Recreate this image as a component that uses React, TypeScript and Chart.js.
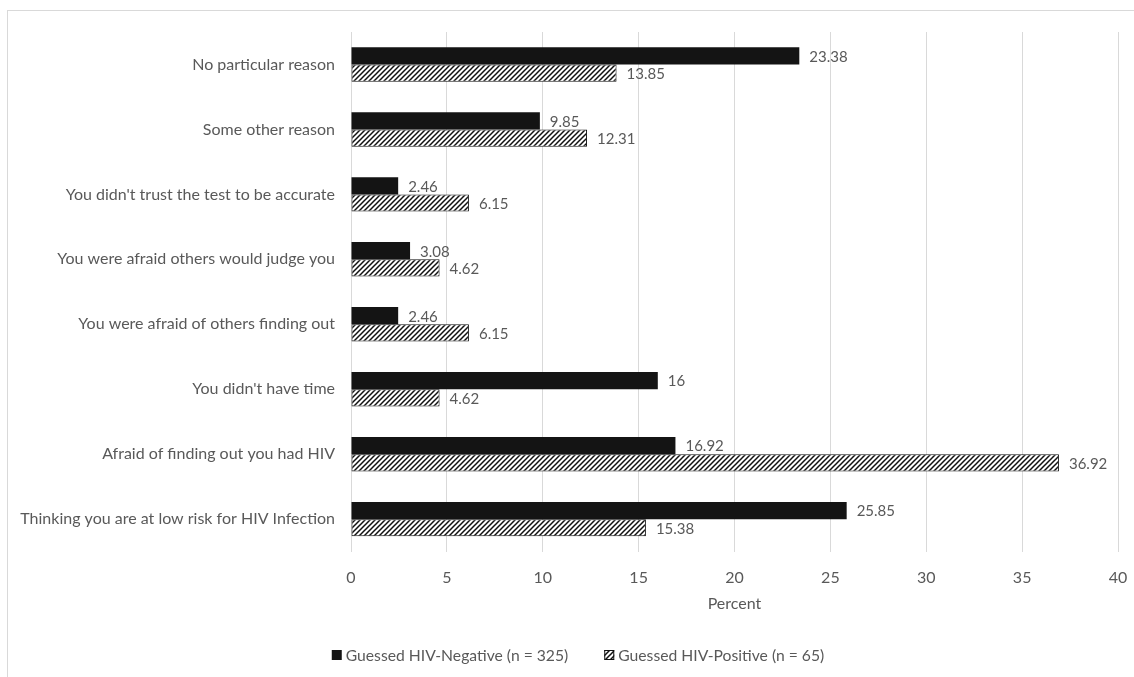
import React, { useEffect, useRef } from "react";
import { Chart, registerables } from "chart.js";

Chart.register(...registerables);

const categories = [
  "No particular reason",
  "Some other reason",
  "You didn't trust the test to be accurate",
  "You were afraid others would judge you",
  "You were afraid of others finding out",
  "You didn't have time",
  "Afraid of finding out you had HIV",
  "Thinking you are at low risk for HIV Infection",
];
const negativeValues = [23.38, 9.85, 2.46, 3.08, 2.46, 16, 16.92, 25.85];
const positiveValues = [13.85, 12.31, 6.15, 4.62, 6.15, 4.62, 36.92, 15.38];
const seriesNames = ["Guessed HIV-Negative (n = 325)", "Guessed HIV-Positive (n = 65)"];
const xTicks = [0, 5, 10, 15, 20, 25, 30, 35, 40];

const FONT = "Lato, 'Open Sans', sans-serif";
const TEXT = "#595959";

function makeHatch(): CanvasPattern | string {
  const c = document.createElement("canvas");
  const s = 5;
  c.width = s;
  c.height = s;
  const g = c.getContext("2d");
  if (!g) return "#fff";
  g.fillStyle = "#ffffff";
  g.fillRect(0, 0, s, s);
  g.strokeStyle = "#111111";
  g.lineWidth = 1.5;
  g.beginPath();
  g.moveTo(-1, s + 1);
  g.lineTo(s + 1, -1);
  g.moveTo(-1, 1);
  g.lineTo(1, -1);
  g.moveTo(s - 1, s + 1);
  g.lineTo(s + 1, s - 1);
  g.stroke();
  const p = g.createPattern(c, "repeat");
  return p || "#fff";
}

const valueLabels = {
  id: "valueLabels",
  afterDatasetsDraw(chart: any) {
    const ctx = chart.ctx;
    ctx.save();
    ctx.font = `15px ${FONT}`;
    ctx.fillStyle = TEXT;
    ctx.textAlign = "left";
    ctx.textBaseline = "middle";
    chart.data.datasets.forEach((ds: any, di: number) => {
      const meta = chart.getDatasetMeta(di);
      meta.data.forEach((el: any, i: number) => {
        ctx.fillText(String(ds.data[i]), el.x + 10, el.y + 1);
      });
    });
    ctx.restore();
  },
};

// Legend drawn on the canvas from the datasets' own labels and styles
const bottomLegend = {
  id: "bottomLegend",
  afterDraw(chart: any) {
    const ctx = chart.ctx;
    const cy = 655;
    const cx = 578;
    const box = 10;
    const boxGap = 4;
    const itemGap = 36;
    ctx.save();
    ctx.font = `15.7px ${FONT}`;
    ctx.textBaseline = "middle";
    ctx.textAlign = "left";
    const ds = chart.data.datasets;
    const widths = ds.map((d: any) => ctx.measureText(d.label).width);
    let total = 0;
    widths.forEach((w: number, i: number) => {
      total += box + boxGap + w + (i > 0 ? itemGap : 0);
    });
    let x = cx - total / 2;
    ds.forEach((d: any, i: number) => {
      ctx.fillStyle = d.backgroundColor;
      ctx.fillRect(x, cy - box / 2, box, box);
      if (d.borderWidth) {
        ctx.strokeStyle = d.borderColor;
        ctx.lineWidth = 1;
        ctx.strokeRect(x + 0.5, cy - box / 2 + 0.5, box - 1, box - 1);
      }
      ctx.fillStyle = TEXT;
      ctx.fillText(d.label, x + box + boxGap, cy + 1);
      x += box + boxGap + widths[i] + itemGap;
    });
    ctx.restore();
  },
};

export default function App() {
  const ref = useRef<HTMLCanvasElement | null>(null);
  useEffect(() => {
    if (!ref.current) return;
    const hatch = makeHatch();
    const chart = new Chart(ref.current, {
      type: "bar",
      data: {
        labels: categories,
        datasets: [
          {
            label: seriesNames[0],
            data: negativeValues,
            backgroundColor: "#141414",
            borderColor: "#141414",
            borderWidth: 0,
            categoryPercentage: 0.53,
            barPercentage: 1,
          },
          {
            label: seriesNames[1],
            data: positiveValues,
            backgroundColor: hatch as any,
            borderColor: "#111111",
            borderWidth: 1,
            borderSkipped: false,
            categoryPercentage: 0.53,
            barPercentage: 1,
          },
        ],
      },
      options: {
        indexAxis: "y",
        responsive: false,
        animation: false,
        layout: { padding: { left: 0, top: 32, right: 16, bottom: 64 } },
        plugins: {
          legend: { display: false },
          tooltip: { enabled: false },
        },
        scales: {
          x: {
            min: 0,
            max: 40,
            afterBuildTicks: (scale: any) => {
              scale.ticks = xTicks.map((v) => ({ value: v }));
            },
            ticks: {
              color: TEXT,
              font: { family: FONT, size: 16 },
              padding: 6,
            },
            grid: {
              color: "#d9d9d9",
              drawTicks: true,
              tickLength: 11,
              tickColor: "rgba(0,0,0,0)",
              lineWidth: 1,
            },
            border: { display: false },
            title: {
              display: true,
              text: "Percent",
              color: TEXT,
              font: { family: FONT, size: 16 },
              padding: { top: 0, bottom: 0 },
            },
          },
          y: {
            afterFit: (scale: any) => {
              scale.width = 351;
            },
            ticks: {
              color: TEXT,
              font: { family: FONT, size: 16 },
              padding: 16,
            },
            grid: { display: false, drawTicks: false },
            border: { display: false },
          },
        },
      },
      plugins: [valueLabels, bottomLegend],
    });
    return () => chart.destroy();
  }, []);

  return (
    <div style={{ position: "fixed", left: 0, top: 0, width: 1134, height: 677, overflow: "hidden", background: "#fff" }}>
      <div
        style={{
          position: "absolute",
          left: 7,
          top: 10,
          width: 1200,
          height: 800,
          border: "1px solid #d9d9d9",
        }}
      />
      <canvas ref={ref} width={1134} height={677} style={{ position: "absolute", left: 0, top: 0 }} />
    </div>
  );
}
